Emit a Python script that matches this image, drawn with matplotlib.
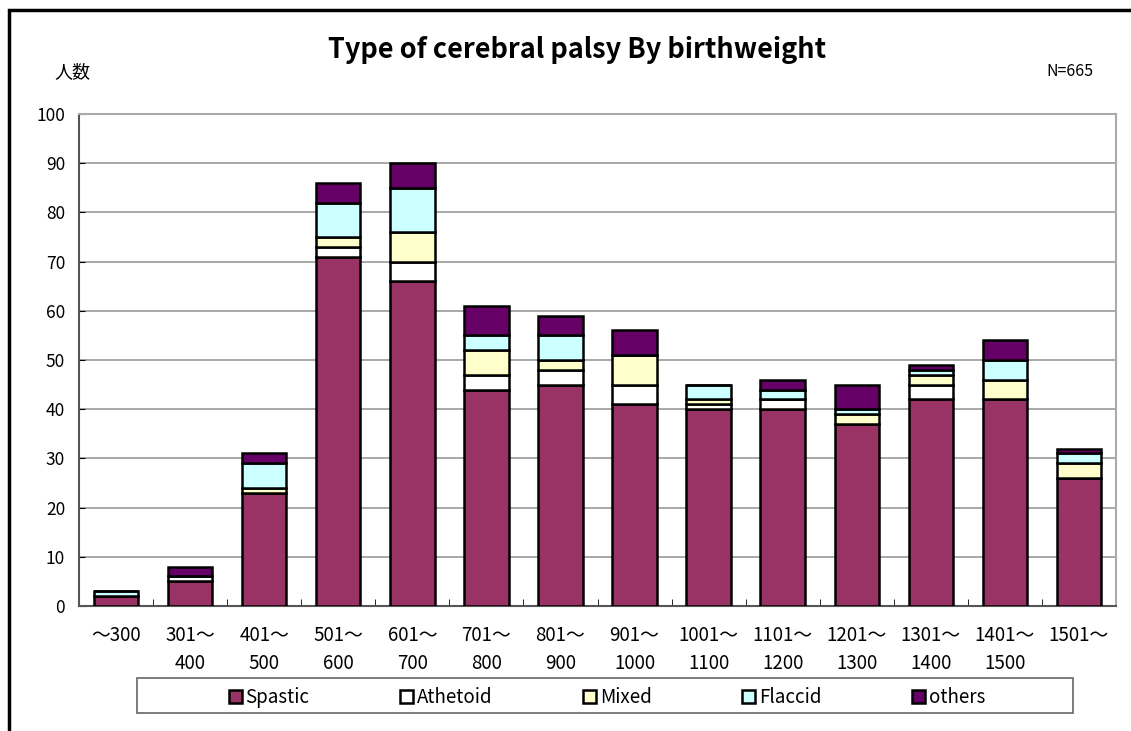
import matplotlib.pyplot as plt
import numpy as np
from matplotlib.patches import Rectangle

plt.rcParams['font.family'] = ['Noto Sans CJK JP', 'DejaVu Sans']

categories = ['～300', '301～\n400', '401～\n500', '501～\n600', '601～\n700', '701～\n800',
              '801～\n900', '901～\n1000', '1001～\n1100', '1101～\n1200', '1201～\n1300',
              '1301～\n1400', '1401～\n1500', '1501～']

spastic  = [2, 5, 23, 71, 66, 44, 45, 41, 40, 40, 37, 42, 42, 26]
athetoid = [0, 1, 0, 2, 4, 3, 3, 4, 1, 2, 0, 3, 0, 0]
mixed    = [0, 0, 1, 2, 6, 5, 2, 6, 1, 0, 2, 2, 4, 3]
flaccid  = [1, 0, 5, 7, 9, 3, 5, 0, 3, 2, 1, 1, 4, 2]
others   = [0, 2, 2, 4, 5, 6, 4, 5, 0, 2, 5, 1, 4, 1]

series = [('Spastic', spastic, '#993366'),
          ('Athetoid', athetoid, '#FFFFFF'),
          ('Mixed', mixed, '#FFFFCC'),
          ('Flaccid', flaccid, '#CCFFFF'),
          ('others', others, '#660066')]

fig = plt.figure(figsize=(11.31, 7.31), dpi=100)
ax = fig.add_axes([79/1131, 1-606/731, (1116-79)/1131, (606-114)/731])

x = np.arange(len(categories))
bottom = np.zeros(len(categories))
handles = []
for name, vals, col in series:
    vals = np.array(vals)
    b = ax.bar(x, vals, 0.6, bottom=bottom, color=col, edgecolor='black', linewidth=1.8, zorder=3, label=name)
    handles.append(b)
    bottom = bottom + vals

ax.set_xlim(-0.5, len(categories) - 0.5)
ax.set_ylim(0, 100)
ax.set_yticks(range(0, 101, 10))
ax.tick_params(axis='y', labelsize=12.5, length=4, direction='in', pad=10)
ax.set_xticks(x)
ax.set_xticklabels(categories, fontsize=13.5, linespacing=1.4)
ax.tick_params(axis='x', length=0, pad=14)
ax.set_xticks(np.arange(0.5, len(categories) - 0.5), minor=True)
ax.tick_params(axis='x', which='minor', length=5, direction='in')
ax.yaxis.grid(True, color='#999999', linewidth=1.2, zorder=0)
for s in ['top', 'right']:
    ax.spines[s].set_color('#aaaaaa')
    ax.spines[s].set_linewidth(1.5)
for s in ['left', 'bottom']:
    ax.spines[s].set_color('#555555')
    ax.spines[s].set_linewidth(1.5)

fig.text(577/1131, 1-50/731, 'Type of cerebral palsy By birthweight', fontsize=19.5, fontweight='bold',
         ha='center', va='center')
fig.text(54/1131, 1-72/731, '人数', fontsize=13, ha='left', va='center')
fig.text(1093/1131, 1-72/731, 'N=665', fontsize=11.5, ha='right', va='center')

leg = fig.legend(handles, [s[0] for s in series], loc='center', ncol=5, mode='expand',
                 bbox_to_anchor=(222/1131, 1-715/731, 770/1131, 35/731),
                 fontsize=13.5, handlelength=0.7, handleheight=0.7, handletextpad=0.2,
                 frameon=False, borderaxespad=0, borderpad=0.35)
for h in leg.legend_handles:
    h.set_linewidth(1.8)

# legend box
fig.patches.append(Rectangle((137/1131, 1-713/731), (1073-137)/1131, 35/731, transform=fig.transFigure,
                             fill=False, edgecolor='#666666', linewidth=1.2))

# outer frame (cut at right and bottom)
fig.patches.append(Rectangle((9/1131, -0.05), 1.2, 1-10/731 + 0.05, transform=fig.transFigure,
                             fill=False, edgecolor='black', linewidth=2.5))

plt.savefig('out.png', dpi=100)
